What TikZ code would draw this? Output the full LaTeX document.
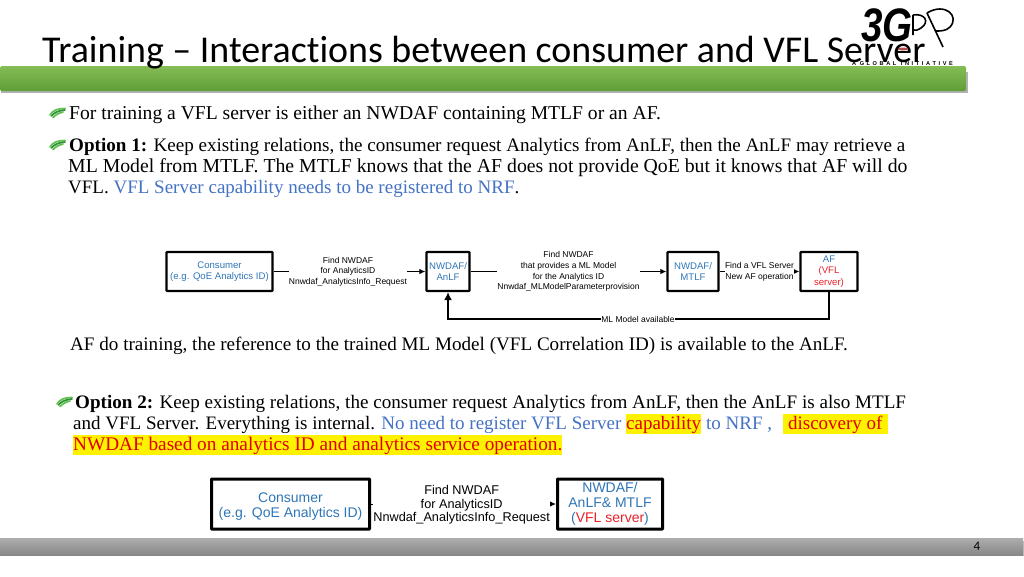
\documentclass[tikz,border=0pt]{standalone}
\usepackage{fontspec}
\usetikzlibrary{arrows.meta}
\setmainfont{Liberation Serif}
\newfontfamily\titlefont[Ligatures=NoCommon]{Carlito}
\newfontfamily\diagfont{Liberation Sans}
\setlength{\fboxsep}{0pt}
\definecolor{bodyblue}{HTML}{4472C4}
\definecolor{boxblue}{HTML}{2E75B6}
\definecolor{boxred}{HTML}{E8202A}
\definecolor{hlred}{HTML}{E00000}
\definecolor{barlight}{HTML}{84BC55}
\definecolor{bardark}{HTML}{5F9E37}
\definecolor{leafdark}{HTML}{2F8F3A}
\definecolor{leaflight}{HTML}{5CC04A}
\newcommand{\hlyel}[1]{\colorbox{yellow}{\rule[-5pt]{0pt}{20pt}\textcolor{hlred}{#1}}}
\newcommand{\leafbullet}[2]{%
  \begin{scope}[shift={(#1,#2)},line cap=round,line width=1.7pt]
    \draw[color=leaflight] (0,7) .. controls (3,2) and (8,.5) .. (15,.5);
    \draw[color=leafdark] (1.5,8) .. controls (4,4.5) and (9,2.5) .. (15,2);
    \draw[color=leaflight] (3,9.5) .. controls (6,6.5) and (9,5) .. (13,4);
  \end{scope}}
\tikzset{
  bodyline/.style={anchor=base west,inner sep=0pt,font=\fontsize{#1}{22}\selectfont},
  bodyline/.default=19,
  smallbox/.style={draw=black,line width=2.2pt,rounded corners=.6pt,minimum height=39pt,
    inner sep=0pt,align=center,text=boxblue,font=\diagfont\fontsize{9.6}{11.6}\selectfont},
  bigbox/.style={draw=black,line width=3pt,rounded corners=.6pt,minimum height=50pt,
    inner sep=0pt,align=center,text=boxblue,font=\diagfont\fontsize{14}{15.3}\selectfont},
  smalllabel/.style={fill=white,inner sep=0pt,align=center,text=black,
    font=\diagfont\fontsize{8.5}{10.7}\selectfont},
  biglabel/.style={fill=white,inner sep=0pt,align=center,text=black,
    font=\diagfont\fontsize{12.7}{13.6}\selectfont},
  flowedge/.style={->,line width=1pt,>={Latex[length=6pt,width=5.5pt]}},
  backedge/.style={line width=1.5pt,>={Latex[length=8pt,width=8pt]}},
}
\begin{document}
\begin{tikzpicture}[x=1pt,y=-1pt]
   \useasboundingbox (0,0) rectangle (1024,576);

   % bars
   \fill[black!30] (1,72) rectangle (968,93);
   \shade[top color=barlight,bottom color=bardark,rounded corners=1.5pt] (0,66) rectangle (966,91);
   \fill[black!25] (0,541) rectangle (1024,556);
   \shade[top color=black!32,bottom color=black!47] (0,538) rectangle (1023,555);
   \node[anchor=center,inner sep=0pt,font=\titlefont\fontsize{13}{13}\selectfont] (pagenum) at (977,546) {4};

   % title
   \node[anchor=base west,inner sep=0pt,font=\titlefont\fontsize{37.9}{38}\selectfont] (title) at (42,62) {Training – Interactions between consumer and VFL Server};

   % logo
   \node[anchor=base west,inner sep=0pt,xscale=.82,font=\diagfont\bfseries\itshape\fontsize{47}{47}\selectfont] (logo3g) at (861,41) {3G};
   \draw[line width=1.6pt] (913,15) -- (913,35) (913,15) .. controls (925,13) and (930,22) .. (921,28) .. controls (918,30) and (915,31) .. (913,30);
   \draw[line width=1.6pt] (927,13) -- (943,47) (927,13) .. controls (945,2) and (960,16) .. (950,27) .. controls (946,31) and (941,31) .. (936,31);
   \fill[red!60!black!70!white] (903,49) ellipse (5 and 1.5);
   \node[anchor=base west,inner sep=0pt,font=\diagfont\bfseries\fontsize{5.6}{6}\selectfont] (logotag) at (852,65) {A\hspace{3.5pt}G\hspace{2.6pt}L\hspace{2.6pt}O\hspace{2.6pt}B\hspace{2.6pt}A\hspace{2.6pt}L\hspace{4.5pt}I\hspace{2.6pt}N\hspace{2.6pt}I\hspace{2.6pt}T\hspace{2.6pt}I\hspace{2.6pt}A\hspace{2.6pt}T\hspace{2.6pt}I\hspace{2.6pt}V\hspace{2.6pt}E};

   % text
   \leafbullet{50}{108}
   \leafbullet{50}{140}
   \leafbullet{57}{397}
   \node[bodyline=19.6] (line1) at (69,119) {For training a VFL server is either an NWDAF containing MTLF or an AF.};
   \node[bodyline=19.1] (line2) at (69,151) {\textbf{Option 1:} Keep existing relations, the consumer request Analytics from AnLF, then the AnLF may retrieve a};
   \node[bodyline=19.75] (line3) at (68,172) {ML Model from MTLF. The MTLF knows that the AF does not provide QoE but it knows that AF will do};
   \node[bodyline] (line4) at (68,193) {VFL. \textcolor{bodyblue}{VFL Server capability needs to be registered to NRF}.};
   \node[bodyline=19.1] (line5) at (70,350) {AF do training, the reference to the trained ML Model (VFL Correlation ID) is available to the AnLF.};
   \node[bodyline=19.1] (line6) at (75,408) {\textbf{Option 2:} Keep existing relations, the consumer request Analytics from AnLF, then the AnLF is also MTLF};
   \node[bodyline] (line7) at (73,429) {and VFL Server. Everything is internal. \textcolor{bodyblue}{No need to register VFL Server }\hlyel{capability}\textcolor{bodyblue}{\hspace{5pt}to NRF ,}\hspace{11pt}\hlyel{\hspace{5pt}discovery of\hspace{5pt}}};
   \node[bodyline=19.25] (line8) at (73,450) {\hlyel{NWDAF based on analytics ID and analytics service operation.}};

   % option 1 chain
   \node[smallbox,minimum width=106pt] (consumer) at (219.5,271.5) {Consumer\\(e.g. QoE Analytics ID)};
   \node[smallbox,minimum width=43pt] (anlf) at (448,271.5) {NWDAF/\\AnLF};
   \node[smallbox,minimum width=51pt] (mtlf) at (693,271.5) {NWDAF/\\MTLF};
   \node[smallbox,minimum width=57pt] (afsrv) at (829,271.5) {AF\\\textcolor{boxred}{(VFL}\\\textcolor{boxred}{server)}};
   \node[smalllabel] (mllabel) at (638,319) {ML Model available};

   \path (consumer) edge[flowedge] node[smalllabel,pos=.49] {Find NWDAF\\for AnalyticsID\\Nnwdaf\_AnalyticsInfo\_Request} (anlf);
   \path (anlf) edge[flowedge] node[smalllabel,pos=.5] {Find NWDAF\\that provides a ML Model\\for the Analytics ID\\Nnwdaf\_MLModelParameterprovision} (mtlf);
   \path (mtlf) edge[flowedge] node[smalllabel,pos=.5] {Find a VFL Server\\New AF operation} (afsrv);
   \draw[backedge] (afsrv.south) |- (mllabel.east);
   \draw[backedge,->] (mllabel.west) -| (anlf.south);

   % option 2 chain
   \node[bigbox,minimum width=158pt] (consumerb) at (290.5,504) {\rule{0pt}{15pt}Consumer\\(e.g. QoE Analytics ID)};
   \node[bigbox,minimum width=105pt] (anlfmtlf) at (610,504) {NWDAF/\\AnLF\& MTLF\\(\textcolor{boxred}{VFL server})};
   \path (consumerb) edge[flowedge] node[biglabel,pos=.49,yshift=-1pt] {Find NWDAF\\for AnalyticsID\\Nnwdaf\_AnalyticsInfo\_Request} (anlfmtlf);
\end{tikzpicture}
\end{document}
